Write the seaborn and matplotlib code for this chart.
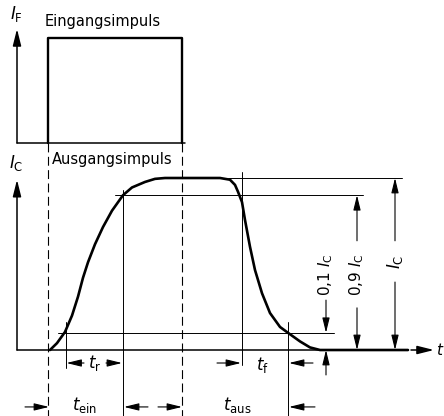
import matplotlib
matplotlib.use("Agg")
import matplotlib.pyplot as plt
import seaborn as sns
import pandas as pd

# Zeit in willkuerlichen Einheiten, 0 = Beginn Eingangsimpuls
pulse_t = [0.0, 0.0, 13.4, 13.4]
pulse_i = [0.0, 1.0, 1.0, 0.0]

# Kollektorstrom als Anteil von I_C
out_t = [0.2, 0.9, 1.7, 2.4, 3.0, 3.5, 4.0, 4.7, 5.5, 6.4, 7.5, 8.4, 9.7, 10.7, 11.7,
         17.2, 18.2, 18.7, 19.0, 19.4, 19.7, 20.2, 20.7, 21.4, 22.2, 23.2,
         24.0, 25.2, 26.2, 27.2, 36.0]
out_i = [0.0, 0.04, 0.105, 0.20, 0.31, 0.42, 0.51, 0.615, 0.715, 0.81, 0.90, 0.945, 0.977, 0.995, 1.0,
         1.0, 0.99, 0.96, 0.92, 0.86, 0.756, 0.60, 0.465, 0.33, 0.215, 0.134,
         0.10, 0.05, 0.015, 0.0, 0.0]

# Schwellen und Zeitmarken
levels = [0.1, 0.9, 1.0]
t_on, t_off = 0.0, 13.4
t_r10, t_r90, t_f90, t_f10 = 1.75, 7.5, 19.4, 24.0

# Lage des oberen Diagramms (I_F) in Einheiten von I_C
IF_BASE = 1.2035
IF_SCALE = 0.6105
AX_T = -3.1

sns.set_theme(style="white")
plt.rcParams['font.family'] = ['DejaVu Sans']
plt.rcParams['mathtext.fontset'] = 'dejavusans'
plt.rcParams['text.color'] = 'black'

fig = plt.figure(figsize=(4.44, 4.16), dpi=100)
ax = fig.add_axes([0, 0, 1, 1])
ax.set_xlim(-4.8, 39.6)
ax.set_ylim(-0.3837, 2.0349)
ax.axis('off')

K = 'black'
thin = 0.7


def arrow(tail, tip, lw=0.8, hl=0.9, hw=0.22, ms=10):
    ax.annotate('', xy=tip, xytext=tail,
                arrowprops=dict(arrowstyle=f'-|>,head_length={hl},head_width={hw}',
                                color=K, lw=lw, shrinkA=0, shrinkB=0,
                                mutation_scale=ms))


def if_y(v):
    return IF_BASE + IF_SCALE * v


# oberes Diagramm: Eingangsimpuls
df_in = pd.DataFrame({'t': pulse_t, 'i': [if_y(v) for v in pulse_i]})
sns.lineplot(data=df_in, x='t', y='i', sort=False, estimator=None, errorbar=None,
             color=K, lw=1.7, ax=ax)
ax.plot([AX_T, 13.7], [if_y(0), if_y(0)], color=K, lw=1.1)
arrow((AX_T, if_y(0)), (AX_T, if_y(1.086)), lw=1.1, hl=1.0, hw=0.25)
ax.text(-3.2, 1.953, r'$I_{\mathrm{F}}$', fontsize=12, ha='center', va='center')
ax.text(-0.3, 1.907, 'Eingangsimpuls', fontsize=10.5, ha='left', va='center')

# gestrichelte Linien Beginn/Ende Eingangsimpuls
for tt in (t_on, t_off):
    ax.plot([tt, tt], [if_y(0), -0.3837], color=K, lw=0.8,
            linestyle=(0, (8, 4)))

# unteres Diagramm: Ausgangsimpuls
ax.plot([AX_T, 28.0], [0, 0], color=K, lw=1.1)
arrow((AX_T, 0), (AX_T, 0.99), lw=1.1, hl=1.0, hw=0.25)
arrow((36.3, 0), (38.6, 0), lw=1.1, hl=1.0, hw=0.25)
ax.text(38.8, 0, r'$t$', fontsize=11, ha='left', va='center')
ax.text(-3.2, 1.087, r'$I_{\mathrm{C}}$', fontsize=12, ha='center', va='center')
ax.text(0.4, 1.105, 'Ausgangsimpuls', fontsize=10.5, ha='left', va='center')

df_out = pd.DataFrame({'t': out_t, 'i': out_i})
sns.lineplot(data=df_out, x='t', y='i', sort=False, estimator=None, errorbar=None,
             color=K, lw=1.9, ax=ax)

# Hilfslinien der Schwellen
ax.plot([1.0, 28.6], [levels[0]] * 2, color=K, lw=thin)
ax.plot([6.7, 31.5], [levels[1]] * 2, color=K, lw=thin)
ax.plot([18.0, 35.4], [levels[2]] * 2, color=K, lw=thin)

# senkrechte Hilfslinien
ax.plot([t_r10, t_r10], [0.163, -0.105], color=K, lw=thin)
ax.plot([t_r90, t_r90], [0.93, -0.3837], color=K, lw=thin)
ax.plot([t_f90, t_f90], [1.035, -0.087], color=K, lw=thin)
ax.plot([t_f10, t_f10], [0.163, -0.3837], color=K, lw=thin)

# Bemassung t_r, t_f
row1 = -0.0756
arrow((3.6, row1), (t_r10 + 0.1, row1))
arrow((5.8, row1), (t_r90 - 0.1, row1))
ax.text(4.7, row1, r'$t_{\mathrm{r}}$', fontsize=12, ha='center', va='center')
arrow((16.9, row1), (t_f90 - 0.1, row1))
arrow((26.5, row1), (t_f10 + 0.1, row1))
ax.text(21.4, row1 - 0.01, r'$t_{\mathrm{f}}$', fontsize=12, ha='center', va='center')

# Bemassung t_ein, t_aus
row2 = -0.331
arrow((-2.3, row2), (t_on + 0.1, row2))
arrow((10.0, row2), (t_r90 + 0.1, row2))
arrow((11.0, row2), (t_off, row2))
arrow((26.7, row2), (t_f10 + 0.1, row2))
ax.text(3.7, row2 + 0.01, r'$t_{\mathrm{ein}}$', fontsize=12, ha='center', va='center')
ax.text(18.9, row2 + 0.01, r'$t_{\mathrm{aus}}$', fontsize=12, ha='center', va='center')

# Bemassung 0,1 I_C / 0,9 I_C / I_C
x1, x2, x3 = 27.8, 30.9, 34.7
arrow((x1, 0.29), (x1, levels[0]))
arrow((x1, -0.145), (x1, 0.0))
ax.text(x1, 0.436, r'0,1 $I_{\mathrm{C}}$', fontsize=11, rotation=90,
        ha='center', va='center')
arrow((x2, 0.635), (x2, levels[1]))
arrow((x2, 0.245), (x2, 0.0))
ax.text(x2, 0.436, r'0,9 $I_{\mathrm{C}}$', fontsize=11, rotation=90,
        ha='center', va='center')
arrow((x3, 0.635), (x3, levels[2]))
arrow((x3, 0.395), (x3, 0.0))
ax.text(x3, 0.51, r'$I_{\mathrm{C}}$', fontsize=12, rotation=90,
        ha='center', va='center')

fig.savefig('out.png', dpi=100, facecolor='white')
